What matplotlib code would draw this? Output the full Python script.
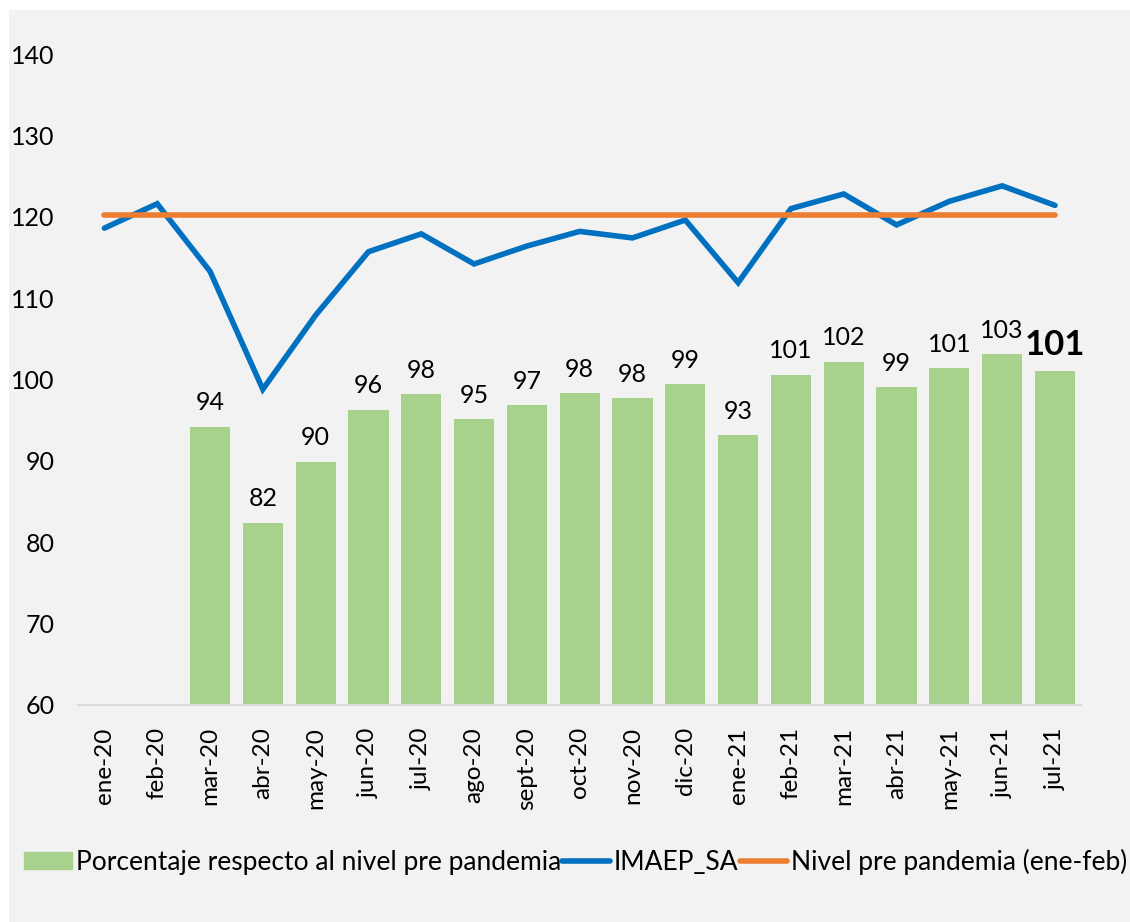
import matplotlib.pyplot as plt
import matplotlib.patches as mpatches
import numpy as np

plt.rcParams['font.family'] = ['Lato', 'DejaVu Sans']

meses = ['ene-20', 'feb-20', 'mar-20', 'abr-20', 'may-20', 'jun-20', 'jul-20',
         'ago-20', 'sept-20', 'oct-20', 'nov-20', 'dic-20', 'ene-21', 'feb-21',
         'mar-21', 'abr-21', 'may-21', 'jun-21', 'jul-21']
imaep_sa = [118.6, 121.6, 113.3, 98.8, 107.9, 115.7, 117.9, 114.2, 116.4, 118.2,
            117.4, 119.6, 111.9, 121.0, 122.8, 119.0, 121.9, 123.8, 121.4]
nivel_pre = [120.2] * 19
porcentaje = [np.nan, np.nan, 94.2, 82.4, 89.9, 96.3, 98.2, 95.1, 96.9, 98.3,
              97.7, 99.4, 93.2, 100.6, 102.2, 99.1, 101.4, 103.1, 101.0]

green = '#a9d18e'
blue = '#0070c0'
orange = '#ed7d31'
bg = '#f2f2f2'

fig = plt.figure(figsize=(11.3, 9.22), dpi=100, facecolor='white')
fig.patches.append(mpatches.Rectangle((9 / 1130, 0), 1, 1 - 10 / 922,
                                      transform=fig.transFigure, facecolor=bg,
                                      edgecolor='none', zorder=-10))
ax = fig.add_axes([0.069, 0.2354, 0.888, 0.706])
ax.set_facecolor(bg)

x = np.arange(len(meses))
bars = ax.bar(x, np.nan_to_num(np.array(porcentaje) - 60), bottom=60, width=0.76,
              color=green, label='Porcentaje respecto al nivel pre pandemia', zorder=2)
l1, = ax.plot(x, imaep_sa, color=blue, lw=4, label='IMAEP_SA', zorder=3,
              solid_capstyle='round', solid_joinstyle='miter')
l2, = ax.plot(x, nivel_pre, color=orange, lw=4, label='Nivel pre pandemia (ene-feb)',
              zorder=4, solid_capstyle='round')

# etiquetas de datos (la ultima en negrita)
for i, v in enumerate(porcentaje):
    if np.isnan(v):
        continue
    if i == len(porcentaje) - 1:
        ax.text(i, v + 1.3, '%d' % round(v), ha='center', va='bottom',
                fontsize=25, fontweight='bold')
    else:
        ax.text(i, v + 1.5, '%d' % round(v), ha='center', va='bottom', fontsize=18)

ax.set_xlim(-0.5, len(meses) - 0.5)
ax.set_ylim(60, 140)
ax.set_yticks(range(60, 141, 10))
ax.set_xticks(x)
ax.set_xticklabels(meses, rotation=90, fontsize=17.5)
ax.tick_params(axis='y', length=0, pad=17, labelsize=18)
ax.tick_params(axis='x', length=0, pad=16)
for s in ['top', 'right', 'left']:
    ax.spines[s].set_visible(False)
ax.spines['bottom'].set_color('#d9d9d9')
ax.spines['bottom'].set_linewidth(1.5)

green_handle = mpatches.Patch(color=green)
fig.legend([green_handle, l1, l2],
           ['Porcentaje respecto al nivel pre pandemia', 'IMAEP_SA',
            'Nivel pre pandemia (ene-feb)'],
           loc='center left', bbox_to_anchor=(0.012, 0.065), ncol=3, frameon=False,
           fontsize=19, handlelength=1.8, handleheight=0.6, handletextpad=0.15,
           columnspacing=0.05, borderaxespad=0)

fig.savefig('out.png', dpi=100, facecolor=fig.get_facecolor())
